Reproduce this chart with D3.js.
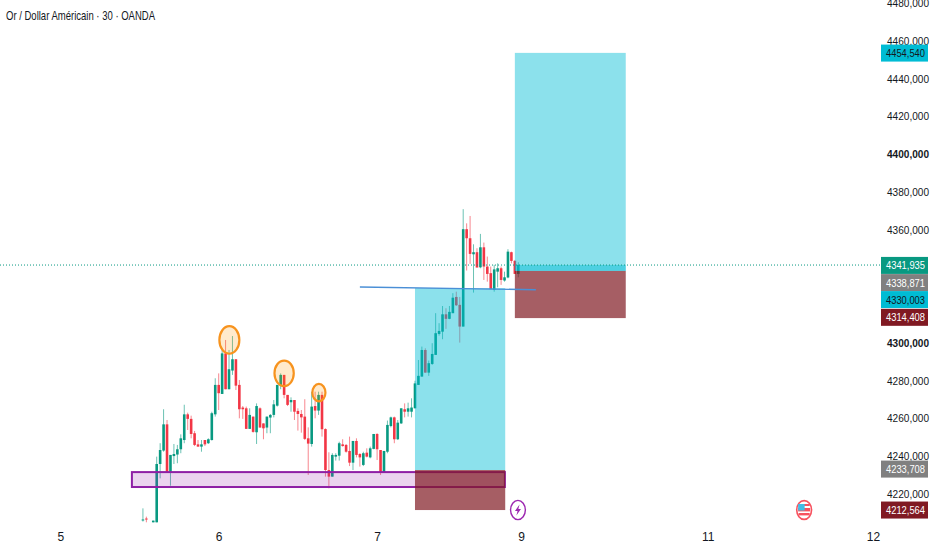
<!DOCTYPE html>
<html>
<head>
<meta charset="utf-8">
<script src="https://cdn.jsdelivr.net/npm/d3@7"></script>
<style>
    html, body { margin: 0; padding: 0; background: #fff; }
    text { font-family: "Liberation Sans", sans-serif; }
</style>
</head>
<body>
<svg id="chart" width="932" height="550"></svg>
<script>
// 30 minute bars, first entry is bar -4
const firstBar = -4;
const barOpen = [
    4206, 4207, null, 4205,
    4205, 4235.9, 4243, 4256.9, 4231.8, 4240.1, 4240.9, 4243.7, 4248.6, 4262.2,
    4259.8, 4252.2, 4246.3, 4245.1, 4248.6, 4246.9, 4248.6, 4262.2, 4277.8, 4273,
    4294.5, 4275.5, 4285.4, 4291.4, 4277.8, 4265.8, 4265.4, 4254.5, 4261, 4252.7,
    4265.4, 4257.4, 4255.2, 4260.5, 4261.9, 4266.8, 4277.8, 4283.1, 4272.5, 4268.6,
    4269.8, 4264, 4262.4, 4261, 4249.5, 4246.5, 4266.6, 4264.2, 4272.5, 4254.4,
    4232.7, 4229.2, 4239.8, 4240.3, 4246.3, 4246, 4242.8, 4236.6, 4248.1, 4241.2,
    4235.4, 4241.9, 4239.4, 4243.9, 4251.8, 4243.3, 4231.3, 4242.4, 4256, 4260.6,
    4249, 4257.4, 4264.9, 4263.6, 4263.6, 4265.4, 4277.8, 4282.2, 4296.3, 4284.3,
    4288.9, 4293.7, 4304.8, 4306, 4315.2, 4312.8, 4315.8, 4324.4, 4320.2, 4308.7,
    4360.3, 4355.5, 4347, 4348.1, 4340.1, 4350.7, 4340.5, 4337, 4328.1, 4337.8,
    4339.6, 4333.1, 4334.7, 4348.1, 4343.5, 4336.6
];
const barHigh = [
    4212.4, 4208, null, 4205.9,
    4239.8, 4246.9, 4264.9, 4259.2, 4240.7, 4246.5, 4246, 4251.6, 4267.3, 4263.1,
    4261.5, 4253.4, 4248.6, 4248.6, 4248.6, 4249.5, 4263.6, 4281.3, 4283.9, 4297.2,
    4301.6, 4296.3, 4303.7, 4291.4, 4280.4, 4266.6, 4266.3, 4265.4, 4261, 4268,
    4265.9, 4257.4, 4261, 4262.4, 4269.8, 4277.8, 4283.9, 4283.1, 4272.5, 4271.2,
    4269.8, 4265.4, 4264.5, 4270.2, 4255.3, 4274.2, 4274.2, 4274.2, 4274.2, 4254.8,
    4242.1, 4241.6, 4241.6, 4247.7, 4249, 4246.5, 4250.4, 4248.1, 4249.5, 4241.6,
    4242.4, 4244.2, 4245.1, 4251.8, 4252.2, 4243.3, 4242.8, 4258.9, 4261, 4261,
    4259.2, 4265.4, 4268, 4268.4, 4270.7, 4280, 4291, 4298.1, 4297.2, 4290.7,
    4299.9, 4315.8, 4310.5, 4319.6, 4318.4, 4319.6, 4326.4, 4327.2, 4324.4, 4370.9,
    4363.4, 4367.3, 4352.3, 4350.2, 4357.8, 4353.2, 4345.8, 4340.5, 4341.4, 4342.2,
    4340.5, 4337.8, 4349.7, 4348.4, 4344, 4342.8
];
const barLow = [
    4205.4, 4205, null, 4205,
    4205, 4228.3, 4242.4, 4231.8, 4224.4, 4235.9, 4236.3, 4241.6, 4246.9, 4253.9,
    4249.5, 4245.4, 4245.1, 4242.4, 4245.4, 4246.5, 4248.3, 4261, 4264.5, 4273,
    4275.5, 4275.5, 4283.1, 4275.1, 4260.1, 4259.8, 4254.5, 4254.5, 4252.5, 4246.5,
    4255.2, 4249, 4252.2, 4252.2, 4260.6, 4266.3, 4275.5, 4270.7, 4266.6, 4263.6,
    4259.2, 4253.6, 4252.5, 4248.6, 4230.1, 4245.1, 4260.1, 4261.9, 4250.4, 4229.2,
    4223, 4229.2, 4237.7, 4237.7, 4245.1, 4241.9, 4234.8, 4232.7, 4239.4, 4234.5,
    4234.8, 4239.4, 4238.9, 4243.7, 4238, 4230.1, 4231.3, 4241.6, 4255.3, 4246.9,
    4248.6, 4257.1, 4260.6, 4261, 4260.6, 4265.4, 4277.8, 4282.2, 4284.3, 4282.6,
    4288.4, 4293.7, 4303.9, 4302, 4307.5, 4312.6, 4315.8, 4319.6, 4300.2, 4308.7,
    4338.4, 4341.9, 4326.7, 4340, 4339.6, 4333.4, 4332.5, 4328.5, 4327.2, 4329.5,
    4330.8, 4332.5, 4334.3, 4342.2, 4336.6, 4334.8
];
const barClose = [
    4206.5, 4206.5, null, 4205.9,
    4235.9, 4243.3, 4256.9, 4231.8, 4240.7, 4241.2, 4243.7, 4249.5, 4262.2, 4259.8,
    4251.8, 4246, 4245.1, 4246.3, 4246.3, 4249, 4262.8, 4277.8, 4273.4, 4294.5,
    4275.5, 4286.1, 4291.4, 4277.4, 4264.9, 4264.9, 4254.5, 4261.9, 4252.9, 4266.6,
    4255.2, 4254.8, 4261, 4261.9, 4267.5, 4277.8, 4283.1, 4272.5, 4267.2, 4269.8,
    4263.6, 4262.4, 4260.6, 4249.2, 4246.7, 4266.3, 4264.2, 4272.5, 4254.3, 4232.7,
    4229.2, 4240.7, 4240.7, 4246.9, 4245.4, 4242.4, 4236.6, 4248.1, 4240.7, 4239.4,
    4241.6, 4239.8, 4244.2, 4251.8, 4243.7, 4231.3, 4242.8, 4256.6, 4260.6, 4249,
    4257.8, 4265.4, 4263.6, 4265.4, 4265.8, 4278.6, 4282.6, 4296.3, 4284.3, 4289.3,
    4294.2, 4305.2, 4306.4, 4315.2, 4312.8, 4316.5, 4324, 4320, 4308.7, 4360.3,
    4355.5, 4347.2, 4348.1, 4340, 4350.7, 4340.5, 4336.6, 4328.5, 4339, 4339.6,
    4333.4, 4334.8, 4348.4, 4343.5, 4336.6, 4341.4
];

// 4340 and 4320 sit behind the price tags
const priceTicks = [4480, 4460, 4440, 4420, 4400, 4380, 4360, 4300, 4280, 4260, 4240, 4220];
const boldTicks = [4400, 4300];
const dateLabels = ["5", "6", "7", "9", "11", "12"];
const dateBars = [-28, 18, 64, 105.8, 160, 208];

// position tools, as bar and price ranges
const zoneBars = [-7.2, 101.1];
const zonePrices = [4231.6, 4223.7];
const tradeOneBars = [75, 101.2];
const tradeOnePrices = [4329.1, 4232.7, 4211.5];
const tradeTwoBars = [104, 136.2];
const tradeTwoPrices = [4453.7, 4338.2, 4313.2];
const lastPrice = 4341.3;
const trendBars = [59, 110.1];
const trendPrices = [4329.7, 4328.2];

// orange circles: bar from, bar to, price top, price bottom
const circleBarFrom = [18.2, 34.2, 45.2];
const circleBarTo = [24, 39.8, 49];
const circleTop = [4308.9, 4290.7, 4278.3];
const circleBottom = [4294.3, 4277.2, 4269.1];

// price tags on the right
const tagTexts = ["4454,540", "4341,935", "4338,871", "4330,003", "4314,408", "4233,708", "4212,564"];
const tagLevels = [4453.6, 4341.1, 4332, 4323, 4313.6, 4233.2, 4211.5];
const tagFills = ["#00bcd4", "#089981", "#808080", "#00bcd4", "#801922", "#808080", "#801922"];
const tagInk = ["#131722", "#fff", "#fff", "#131722", "#fff", "#fff", "#fff"];

const UP = "#089981";
const DOWN = "#f23645";

const svg = d3.select("#chart");
const xScale = d3.scaleLinear().domain([0, 105]).range([156.7, 518.3]);
const yScale = d3.scaleLinear().domain([4300, 4220]).range([343, 494]);

const bars = barOpen.map((o, i) => ({
    bar: firstBar + i, open: o, high: barHigh[i], low: barLow[i], close: barClose[i]
})).filter(d => d.open != null);

// Candles
const candles = svg.append("g");
candles.selectAll("line").data(bars).enter().append("line")
    .attr("x1", d => xScale(d.bar))
    .attr("x2", d => xScale(d.bar))
    .attr("y1", d => yScale(d.high))
    .attr("y2", d => yScale(d.low))
    .attr("stroke", d => d.close >= d.open ? UP : DOWN)
    .attr("stroke-opacity", 0.6)
    .attr("stroke-width", 1);
candles.selectAll("rect").data(bars).enter().append("rect")
    .attr("x", d => xScale(d.bar) - 1.3)
    .attr("width", 2.6)
    .attr("y", d => yScale(Math.max(d.open, d.close)))
    .attr("height", d => Math.max(1, Math.abs(yScale(d.open) - yScale(d.close))))
    .attr("fill", d => d.close >= d.open ? UP : DOWN);

// Support zone
svg.append("rect")
    .attr("x", xScale(zoneBars[0]))
    .attr("width", xScale(zoneBars[1]) - xScale(zoneBars[0]))
    .attr("y", yScale(zonePrices[0]))
    .attr("height", yScale(zonePrices[1]) - yScale(zonePrices[0]))
    .attr("fill", "#9c27b0").attr("fill-opacity", 0.2)
    .attr("stroke", "#8e1fa5").attr("stroke-width", 2);

function drawTrade(barsX, prices) {
    const x0 = xScale(barsX[0]), w = xScale(barsX[1]) - x0;
    svg.append("rect").attr("x", x0).attr("width", w)
        .attr("y", yScale(prices[0])).attr("height", yScale(prices[1]) - yScale(prices[0]))
        .attr("fill", "#00bcd4").attr("fill-opacity", 0.45);
    svg.append("rect").attr("x", x0).attr("width", w)
        .attr("y", yScale(prices[1])).attr("height", yScale(prices[2]) - yScale(prices[1]))
        .attr("fill", "#801922").attr("fill-opacity", 0.7);
}
drawTrade(tradeOneBars, tradeOnePrices);
drawTrade(tradeTwoBars, tradeTwoPrices);

// darker strip between entry and current price on the open trade
svg.append("rect")
    .attr("x", xScale(tradeTwoBars[0]))
    .attr("width", xScale(tradeTwoBars[1]) - xScale(tradeTwoBars[0]))
    .attr("y", yScale(lastPrice))
    .attr("height", yScale(tradeTwoPrices[1]) - yScale(lastPrice))
    .attr("fill", "#00bcd4").attr("fill-opacity", 0.45);

// Current price line
svg.append("line")
    .attr("x1", 0).attr("x2", 881)
    .attr("y1", yScale(lastPrice)).attr("y2", yScale(lastPrice))
    .attr("stroke", UP).attr("stroke-width", 1).attr("stroke-dasharray", "1 2");

// Trend line
svg.append("line")
    .attr("x1", xScale(trendBars[0])).attr("x2", xScale(trendBars[1]))
    .attr("y1", yScale(trendPrices[0])).attr("y2", yScale(trendPrices[1]))
    .attr("stroke", "#4a8fd6").attr("stroke-width", 1.4);

// Orange circles
svg.selectAll("ellipse.peak").data(circleTop).enter().append("ellipse")
    .attr("class", "peak")
    .attr("cx", (d, i) => (xScale(circleBarFrom[i]) + xScale(circleBarTo[i])) / 2)
    .attr("cy", (d, i) => (yScale(d) + yScale(circleBottom[i])) / 2)
    .attr("rx", (d, i) => (xScale(circleBarTo[i]) - xScale(circleBarFrom[i])) / 2)
    .attr("ry", (d, i) => (yScale(circleBottom[i]) - yScale(d)) / 2)
    .attr("fill", "#ff9800").attr("fill-opacity", 0.2)
    .attr("stroke", "#f7931e").attr("stroke-width", 2.2);

// Price axis
const priceAxis = d3.axisRight(yScale).tickValues(priceTicks)
    .tickSize(0).tickPadding(0)
    .tickFormat(d => d + ",000");
const axisG = svg.append("g").attr("transform", "translate(887,0)").call(priceAxis);
axisG.select(".domain").remove();
axisG.selectAll("text")
    .attr("textLength", 42)
    .attr("lengthAdjust", "spacingAndGlyphs")
    .style("font-size", "10.8px")
    .style("fill", "#131722")
    .style("font-weight", d => boldTicks.includes(d) ? "bold" : "normal");

// Date axis
const dateAxis = d3.axisBottom(xScale).tickValues(dateBars)
    .tickSize(0).tickPadding(0)
    .tickFormat((d, i) => dateLabels[i]);
const dateG = svg.append("g").attr("transform", "translate(0,532)").call(dateAxis);
dateG.select(".domain").remove();
dateG.selectAll("text").style("font-size", "12px").style("fill", "#131722");

// Price tags
const tags = svg.append("g").selectAll("g").data(tagTexts).enter().append("g")
    .attr("transform", (d, i) => `translate(881,${yScale(tagLevels[i])})`);
tags.append("rect")
    .attr("y", -8.5).attr("width", 47).attr("height", 17)
    .attr("fill", (d, i) => tagFills[i]);
tags.append("text")
    .attr("x", 5).attr("y", 4)
    .attr("textLength", 39)
    .attr("lengthAdjust", "spacingAndGlyphs")
    .style("font-size", "10.8px")
    .style("fill", (d, i) => tagInk[i])
    .text(d => d);

// Title
svg.append("text").attr("x", 6).attr("y", 20)
    .attr("textLength", 149)
    .attr("lengthAdjust", "spacingAndGlyphs")
    .style("font-size", "13px").style("fill", "#131722")
    .text("Or / Dollar Américain · 30 · OANDA");

// Event icons
const boltIcon = svg.append("g").attr("transform", `translate(${xScale(104.9)},510)`);
boltIcon.append("ellipse").attr("rx", 7.4).attr("ry", 9.6)
    .attr("fill", "#fff").attr("stroke", "#9c27b0").attr("stroke-width", 1.4);
boltIcon.append("path").attr("d", "M1.6,-5.5 L-3,1 L-0.4,1 L-1.6,5.5 L3,-1 L0.4,-1 Z").attr("fill", "#9c27b0");

const flagIcon = svg.append("g").attr("transform", `translate(${xScale(188)},510)`);
flagIcon.append("ellipse").attr("rx", 7.4).attr("ry", 9.4)
    .attr("fill", "#fff").attr("stroke", "#f7525f").attr("stroke-width", 1.6);
flagIcon.append("rect").attr("x", -5.5).attr("y", -6).attr("width", 11).attr("height", 2).attr("fill", "#f7525f");
flagIcon.append("rect").attr("x", -6).attr("y", -2).attr("width", 12).attr("height", 3.4).attr("fill", "#f7525f");
flagIcon.append("rect").attr("x", -5.5).attr("y", 3).attr("width", 11).attr("height", 2.4).attr("fill", "#f7525f");
flagIcon.append("rect").attr("x", -6).attr("y", -6).attr("width", 6.5).attr("height", 6.5).attr("fill", "#42bde6");
</script>
</body>
</html>
